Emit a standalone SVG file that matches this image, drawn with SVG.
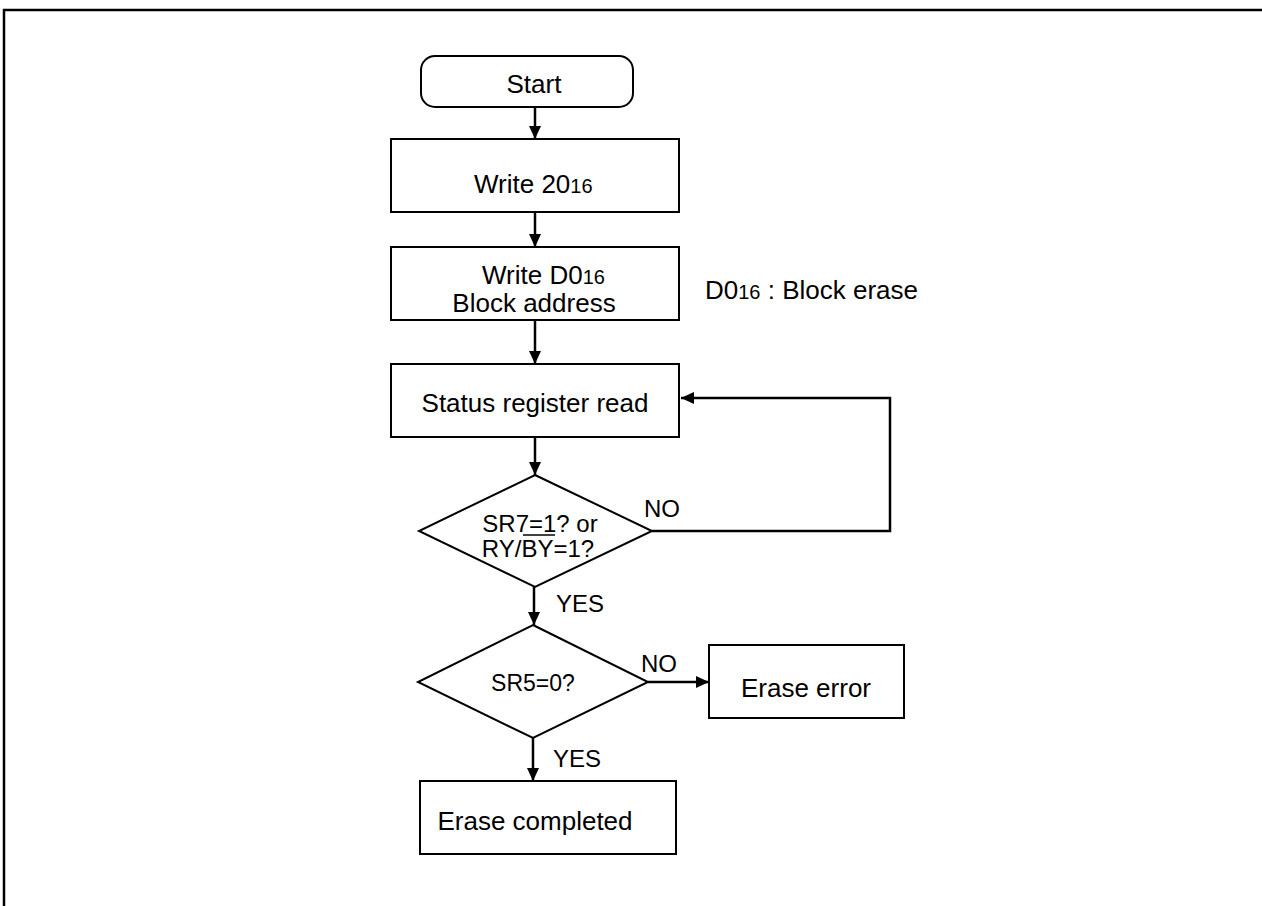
<svg xmlns="http://www.w3.org/2000/svg" width="1262" height="906" viewBox="0 0 1262 906">
  <defs>
    <style>
      .shape { fill: #ffffff; stroke: #000000; stroke-width: 2; }
      .conn { fill: none; stroke: #000000; stroke-width: 2.5; }
      .t { font-family: "Liberation Sans", Arial, sans-serif; font-size: 26px; fill: #000000; }
      .td { font-family: "Liberation Sans", Arial, sans-serif; font-size: 24px; fill: #000000; }
      .sub { font-size: 20px; }
    </style>
    <marker id="arrow" markerUnits="userSpaceOnUse" markerWidth="14" markerHeight="12" refX="13" refY="6" orient="auto">
      <path d="M0,0 L13,6 L0,12 Z" fill="#000000"/>
    </marker>
  </defs>
  <rect width="1262" height="906" fill="#ffffff"/>
  <path d="M4,906 V10 H1262" fill="none" stroke="#000000" stroke-width="2.5"/>

  <g id="connectors">
    <line class="conn" x1="535" y1="107" x2="535" y2="139" marker-end="url(#arrow)"/>
    <line class="conn" x1="535" y1="212" x2="535" y2="247" marker-end="url(#arrow)"/>
    <line class="conn" x1="535" y1="320" x2="535" y2="364" marker-end="url(#arrow)"/>
    <line class="conn" x1="535" y1="437" x2="535" y2="475" marker-end="url(#arrow)"/>
    <polyline class="conn" points="652,531 890,531 890,398 681,398" marker-end="url(#arrow)"/>
    <line class="conn" x1="534" y1="587" x2="534" y2="625" marker-end="url(#arrow)"/>
    <line class="conn" x1="648" y1="682" x2="709" y2="682" marker-end="url(#arrow)"/>
    <line class="conn" x1="533" y1="738" x2="533" y2="781" marker-end="url(#arrow)"/>
    <text class="td" x="644" y="517">NO</text>
    <text class="td" x="556" y="612">YES</text>
    <text class="td" x="641" y="672">NO</text>
    <text class="td" x="553" y="767">YES</text>
  </g>

  <g id="start">
    <rect class="shape" x="421" y="56" width="212" height="51" rx="14" ry="14"/>
    <text class="t" x="534" y="93" text-anchor="middle">Start</text>
  </g>

  <g id="write20">
    <rect class="shape" x="391" y="139" width="288" height="73"/>
    <text class="t" x="474" y="193">Write 20<tspan class="sub">16</tspan></text>
  </g>

  <g id="writeD0">
    <rect class="shape" x="391" y="247" width="288" height="73"/>
    <text class="t" x="482" y="284">Write D0<tspan class="sub">16</tspan></text>
    <text class="t" x="534" y="312" text-anchor="middle">Block address</text>
  </g>

  <g id="note">
    <text class="t" x="705" y="299">D0<tspan class="sub">16</tspan> : Block erase</text>
  </g>

  <g id="status">
    <rect class="shape" x="391" y="364" width="288" height="73"/>
    <text class="t" x="535" y="412" text-anchor="middle">Status register read</text>
  </g>

  <g id="decision1">
    <polygon class="shape" points="535,475 652,531 535,587 419,531"/>
    <text class="td" x="540" y="532" text-anchor="middle">SR7=1? or</text>
    <text class="td" x="538" y="557" text-anchor="middle">RY/BY=1?</text>
    <line x1="523" y1="535" x2="555" y2="535" stroke="#000000" stroke-width="1.5"/>
  </g>

  <g id="decision2">
    <polygon class="shape" points="533,625 648,682 533,738 418,682"/>
    <text class="td" x="533" y="691" text-anchor="middle" style="font-size:23px">SR5=0?</text>
  </g>

  <g id="eraseError">
    <rect class="shape" x="709" y="645" width="195" height="73"/>
    <text class="t" x="806" y="697" text-anchor="middle">Erase error</text>
  </g>

  <g id="eraseCompleted">
    <rect class="shape" x="420" y="781" width="256" height="73"/>
    <text class="t" x="535" y="830" text-anchor="middle">Erase completed</text>
  </g>
</svg>
